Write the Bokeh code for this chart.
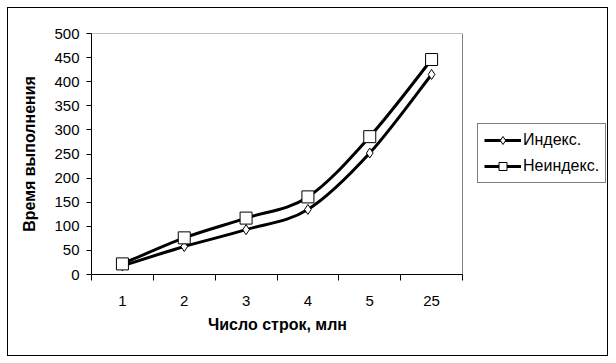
import numpy as np
from bokeh.plotting import figure
from bokeh.models import Range1d, FixedTicker, Legend, LegendItem, ColumnDataSource, Title
from bokeh.embed import file_html
from bokeh.resources import INLINE

# ---- data ----
categories = ["1", "2", "3", "4", "5", "25"]
indexed = [18, 58, 93, 135, 252, 415]
non_indexed = [22, 76, 117, 161, 286, 446]
series_names = ["Индекс.", "Неиндекс."]
y_ticks = list(range(0, 501, 50))
x_title = "Число строк, млн"
y_title = "Время выполнения"

FONT = "Liberation Sans"
N = len(categories)
Y_MAX = 500

# layout (pixels inside the bordered box)
FIG_W, FIG_H = 601, 349
LEFT, TOP, BOTTOM, RIGHT = 83, 25, 83, 1
PLOT_W = 371                      # width of the category plot area
FRAME_W = FIG_W - LEFT - RIGHT
X_END = N * FRAME_W / PLOT_W      # frame extends right to hold the legend
X_TITLE_HALF_W = 69               # approx. half width of the x title text

xs = np.arange(N) + 0.5


def bezier_source(x, y):
    x = np.asarray(x, float)
    y = np.asarray(y, float)
    n = len(x)
    d = dict(x0=[], y0=[], x1=[], y1=[], cx0=[], cy0=[], cx1=[], cy1=[])
    for i in range(n - 1):
        i0 = max(i - 1, 0)
        i3 = min(i + 2, n - 1)
        d["x0"].append(x[i]); d["y0"].append(y[i])
        d["x1"].append(x[i + 1]); d["y1"].append(y[i + 1])
        d["cx0"].append(x[i] + (x[i + 1] - x[i0]) / 6)
        d["cy0"].append(y[i] + (y[i + 1] - y[i0]) / 6)
        d["cx1"].append(x[i + 1] - (x[i3] - x[i]) / 6)
        d["cy1"].append(y[i + 1] - (y[i3] - y[i]) / 6)
    return ColumnDataSource(d)


p = figure(width=FIG_W, height=FIG_H, output_backend="svg", toolbar_location=None,
           x_range=Range1d(0, X_END), y_range=Range1d(0, Y_MAX),
           min_border_left=LEFT, min_border_right=RIGHT, min_border_top=TOP, min_border_bottom=BOTTOM,
           background_fill_color="white", border_fill_color="white")
p.styles = {"border": "1px solid black", "margin-left": "7px", "margin-top": "7px"}

p.grid.visible = False
p.outline_line_color = None

# gray border of the plot area (top and right)
p.segment(x0=[0, N], y0=[Y_MAX, 0], x1=[N, N], y1=[Y_MAX, Y_MAX],
          line_color="#808080", line_width=1)

# y axis
ya = p.yaxis[0]
ya.ticker = FixedTicker(ticks=y_ticks, minor_ticks=[])
ya.major_tick_in = 0
ya.major_tick_out = 5
ya.major_tick_line_color = "black"
ya.axis_line_color = "black"
ya.major_label_text_font = FONT
ya.major_label_text_font_size = "15px"
ya.major_label_text_color = "black"
ya.major_label_standoff = 7
ya.axis_label = y_title
ya.axis_label_text_font = FONT
ya.axis_label_text_font_size = "16px"
ya.axis_label_text_font_style = "bold"
ya.axis_label_text_color = "black"
ya.axis_label_standoff = 13

# x axis
xa = p.xaxis[0]
xa.bounds = (0, N)
xa.ticker = FixedTicker(ticks=list(xs), minor_ticks=list(range(N + 1)))
xa.major_label_overrides = {float(v): c for v, c in zip(xs, categories)}
xa.major_tick_in = 0
xa.major_tick_out = 0
xa.major_tick_line_color = None
xa.minor_tick_in = 0
xa.minor_tick_out = 6
xa.minor_tick_line_color = "black"
xa.axis_line_color = "black"
xa.major_label_text_font = FONT
xa.major_label_text_font_size = "15px"
xa.major_label_text_color = "black"
xa.major_label_standoff = 15

# x title centred under the category area
xt = Title(text=x_title, align="left", offset=PLOT_W / 2 - X_TITLE_HALF_W,
           text_font=FONT, text_font_size="16px", text_font_style="bold",
           text_color="black", standoff=10)
p.add_layout(xt, "below")

# series
b1 = p.bezier(x0="x0", y0="y0", x1="x1", y1="y1", cx0="cx0", cy0="cy0", cx1="cx1", cy1="cy1",
              source=bezier_source(xs, indexed), line_color="black", line_width=3)
b2 = p.bezier(x0="x0", y0="y0", x1="x1", y1="y1", cx0="cx0", cy0="cy0", cx1="cx1", cy1="cy1",
              source=bezier_source(xs, non_indexed), line_color="black", line_width=3)
m1 = p.scatter(xs, indexed, marker="diamond", size=10,
               fill_color="white", line_color="black", line_width=1)
m2 = p.scatter(xs, non_indexed, marker="square", size=12,
               fill_color="white", line_color="black", line_width=1)

legend = Legend(items=[LegendItem(label=series_names[0], renderers=[b1, m1]),
                       LegendItem(label=series_names[1], renderers=[b2, m2])],
                location=(PLOT_W + 15, 91), orientation="vertical")
legend.border_line_color = "black"
legend.border_line_width = 1
legend.background_fill_color = "white"
legend.background_fill_alpha = 1
legend.label_text_font = FONT
legend.label_text_font_size = "16px"
legend.label_text_color = "black"
legend.glyph_width = 37
legend.glyph_height = 20
legend.label_standoff = 2
legend.spacing = 6
legend.padding = 6
legend.margin = 0
p.add_layout(legend, "center")

open("out.html", "w").write(file_html(p, INLINE))
